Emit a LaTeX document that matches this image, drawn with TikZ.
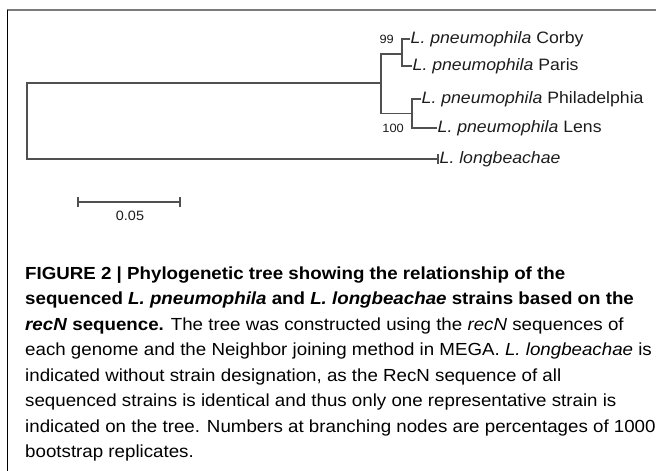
\documentclass[tikz,border=0pt]{standalone}
\usepackage{fontspec}
\setmainfont[FakeStretch=1.07]{Liberation Sans}
\definecolor{branchgray}{HTML}{505050}
\definecolor{framegray}{HTML}{7A7A7A}
\definecolor{inkdark}{HTML}{1C1C1C}
\begin{document}
\begin{tikzpicture}[x=1pt,y=-1pt,
  branch/.style={draw=branchgray, line width=1.4pt, line cap=rect},
  tiplabel/.style={inner sep=1.5pt, text=inkdark, font=\fontsize{16.5}{19}\selectfont},
  bootlabel/.style={inner sep=0pt, text=inkdark, font=\fontsize{12}{14}\selectfont},
  capline/.style={inner sep=0pt, anchor=base west, text=black, font=\fontsize{17.5}{21}\selectfont}]
\useasboundingbox (0,0) rectangle (656,471);

% frame: rule along the top, rule down the left side
\coordinate (frTL) at (7.3,9.5);
\coordinate (frTR) at (656,9.5);
\coordinate (frBL) at (7.3,471);
\draw[framegray, line width=2pt] (frTL) -- (frTR);
\draw[black, line width=1.4pt] (frTL) -- (frBL);

% internal nodes of the tree
\coordinate (root)  at (27,121);
\coordinate (nMain) at (381,83);
\coordinate (nCP)   at (402,54);
\coordinate (nPL)   at (412,113.5);

% leaves
\node[tiplabel, anchor=west] (corby) at (409,39)  {\textit{L. pneumophila} Corby};
\node[tiplabel, anchor=west] (paris) at (411,66)  {\textit{L. pneumophila} Paris};
\node[tiplabel, anchor=west] (phila) at (420,99)  {\textit{L. pneumophila} Philadelphia};
\node[tiplabel, anchor=west] (lens)  at (436,128) {\textit{L. pneumophila} Lens};
\node[tiplabel, anchor=west] (longb) at (438,159) {\textit{L. longbeachae}};

% branches
\draw[branch] (nMain) -| (root) |- (longb.west);
\draw[branch] (nCP) -| (nMain) |- (nPL);
\draw[branch] (corby.west) -| (nCP) |- (paris.west);
\draw[branch] (phila.west) -| (nPL) |- (lens.west);
\coordinate (tickTop) at ([yshift=-5pt]longb.west);
\coordinate (tickBot) at ([yshift=5pt]longb.west);
\draw[branch, line cap=butt] (tickTop) -- (tickBot);

% bootstrap support values
\node[bootlabel, anchor=east] (b99)  at (394,39)  {99};
\node[bootlabel, anchor=east] (b100) at (404,128) {100};

% scale bar
\coordinate (sbL) at (78,202);
\coordinate (sbR) at (180,202);
\draw[branch, line width=1.2pt] (sbL) -- (sbR);
\draw[branch, line width=1.2pt, line cap=butt] ([yshift=-5pt]sbL) -- ([yshift=5pt]sbL);
\draw[branch, line width=1.2pt, line cap=butt] ([yshift=-5pt]sbR) -- ([yshift=5pt]sbR);
\node[bootlabel, font=\fontsize{13.5}{16}\selectfont] (sbT) at (130,216) {0.05};

% caption
\node[capline] (c1) at (25,279.0) {\textbf{FIGURE 2 | Phylogenetic tree showing the relationship of the}};
\node[capline] (c2) at (25,304.5) {\textbf{sequenced \textit{L. pneumophila} and \textit{L. longbeachae} strains based on the}};
\node[capline] (c3) at (25,330.0) {\textbf{\textit{recN} sequence.} The tree was constructed using the \textit{recN} sequences of};
\node[capline] (c4) at (25,355.5) {each genome and the Neighbor joining method in MEGA. \textit{L. longbeachae} is};
\node[capline] (c5) at (25,381.0) {indicated without strain designation, as the RecN sequence of all};
\node[capline] (c6) at (25,406.5) {sequenced strains is identical and thus only one representative strain is};
\node[capline] (c7) at (25,432.0) {indicated on the tree. Numbers at branching nodes are percentages of 1000};
\node[capline] (c8) at (25,457.5) {bootstrap replicates.};
\end{tikzpicture}
\end{document}
